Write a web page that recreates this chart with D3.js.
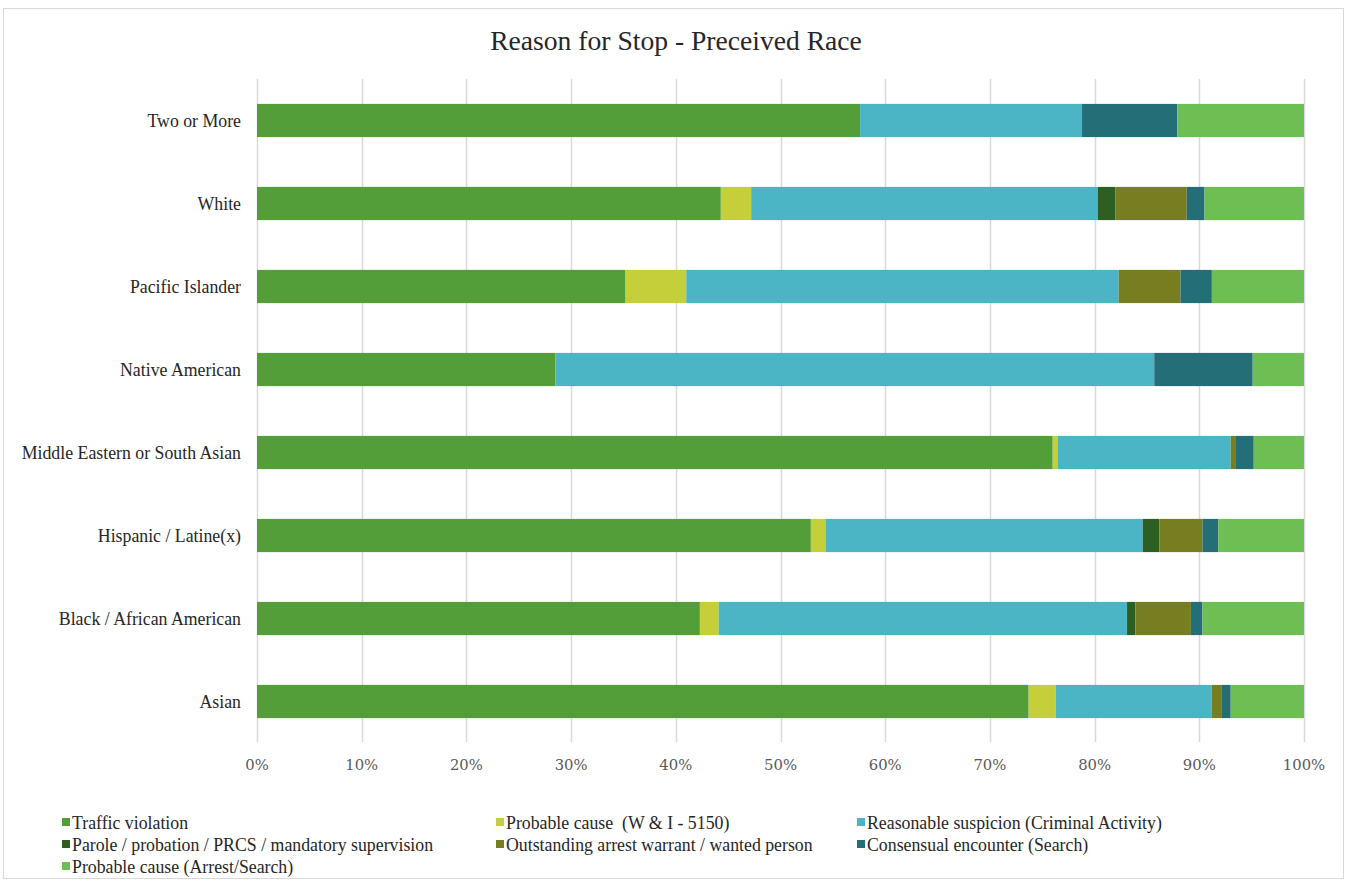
<!DOCTYPE html>
<html><head><meta charset="utf-8">
<script src="https://cdn.jsdelivr.net/npm/d3@7"></script>
<style>body{margin:0;background:#fff}svg{display:block}text{white-space:pre}</style>
</head><body>
<script>
const categories = ["Two or More","White","Pacific Islander","Native American","Middle Eastern or South Asian","Hispanic / Latine(x)","Black / African American","Asian"];
const seriesNames = ["Traffic violation","Probable cause  (W & I - 5150)","Reasonable suspicion (Criminal Activity)","Parole / probation / PRCS / mandatory supervision","Outstanding arrest warrant / wanted person","Consensual encounter (Search)","Probable cause (Arrest/Search)"];
const trafficViolation   = [57.6, 44.3, 35.2, 28.5, 76.0, 52.9, 42.3, 73.7];
const probableCauseWI    = [0,    2.9,  5.8,  0,    0.5,  1.4,  1.8,  2.6];
const reasonableSusp     = [21.2, 33.1, 41.3, 57.2, 16.5, 30.3, 39.0, 14.9];
const parole             = [0,    1.7,  0,    0,    0,    1.6,  0.8,  0];
const outstandingWarrant = [0,    6.8,  5.9,  0,    0.5,  4.1,  5.3,  0.9];
const consensual         = [9.1,  1.7,  3.0,  9.4,  1.7,  1.5,  1.1,  0.9];
const probableCauseArrest= [12.1, 9.5,  8.8,  4.9,  4.8,  8.2,  9.7,  7.0];
const tickLabels = ["0%","10%","20%","30%","40%","50%","60%","70%","80%","90%","100%"];
const colors = ["#549E39","#C4CF3A","#4BB4C5","#2E5F22","#767E21","#246E78","#6DBE53"];

const seriesData = [trafficViolation, probableCauseWI, reasonableSusp, parole, outstandingWarrant, consensual, probableCauseArrest];
const rows = categories.map((c,i)=>{const o={cat:c}; seriesNames.forEach((s,j)=>o[s]=seriesData[j][i]); return o;});

const W=1347,H=881;
const svg=d3.select("body").append("svg").attr("width",W).attr("height",H);
svg.append("rect").attr("x",3.5).attr("y",8.5).attr("width",1340).attr("height",870).attr("fill","#fff").attr("stroke","#d9d9d9");

const x=d3.scaleLinear().domain([0,1]).range([257,1304]);
const y=d3.scaleBand().domain(categories).range([79,743]).paddingInner(0.6).paddingOuter(0.3);

// gridlines
const ticks=d3.range(0,1.0001,0.1);
svg.append("g").selectAll("line").data(ticks).join("line")
  .attr("x1",d=>Math.round(x(d))+0.5).attr("x2",d=>Math.round(x(d))+0.5)
  .attr("y1",79).attr("y2",742).attr("stroke","#d9d9d9").attr("stroke-width",1.5);

const stack=d3.stack().keys(seriesNames)(rows.map(r=>{const o={cat:r.cat};let t=0;seriesNames.forEach(s=>t+=r[s]);seriesNames.forEach(s=>o[s]=r[s]/t);return o;}));
svg.append("g").selectAll("g").data(stack).join("g").attr("fill",(d,i)=>colors[i])
 .selectAll("rect").data(d=>d).join("rect")
 .attr("x",d=>x(d[0])).attr("width",d=>Math.max(0,x(d[1])-x(d[0])))
 .attr("y",d=>y(d.data.cat)).attr("height",y.bandwidth());

const serif="Liberation Serif, Times New Roman, serif";
// category labels
svg.append("g").selectAll("text").data(categories).join("text")
 .attr("x",241).attr("y",d=>y(d)+y.bandwidth()/2).attr("dy","0.35em")
 .attr("text-anchor","end").attr("font-family",serif).attr("font-size",17.8).attr("fill","#262626").text(d=>d);

// tick labels
svg.append("g").selectAll("text").data(ticks).join("text")
 .attr("x",d=>x(d)).attr("y",770).attr("text-anchor","middle")
 .attr("font-family","DejaVu Serif, serif").attr("font-size",14.8).attr("fill","#595959").text((d,i)=>tickLabels[i]);

// title
svg.append("text").attr("x",676).attr("y",50).attr("text-anchor","middle")
 .attr("font-family",serif).attr("font-size",27.6).attr("fill","#262626").text("Reason for Stop - Preceived Race");

// legend
const colX=[62,496,857], rowY=[823,845,867];
const lg=svg.append("g").selectAll("g").data(seriesNames).join("g")
 .attr("transform",(d,i)=>`translate(${colX[i%3]},${rowY[Math.floor(i/3)]})`);
lg.append("rect").attr("x",0).attr("y",-5).attr("width",8).attr("height",8).attr("fill",(d,i)=>colors[i]);
lg.append("text").attr("x",10).attr("y",0).attr("dy","0.35em").attr("font-family",serif).attr("font-size",17.8).attr("fill","#262626").text(d=>d);
</script>
</body></html>
